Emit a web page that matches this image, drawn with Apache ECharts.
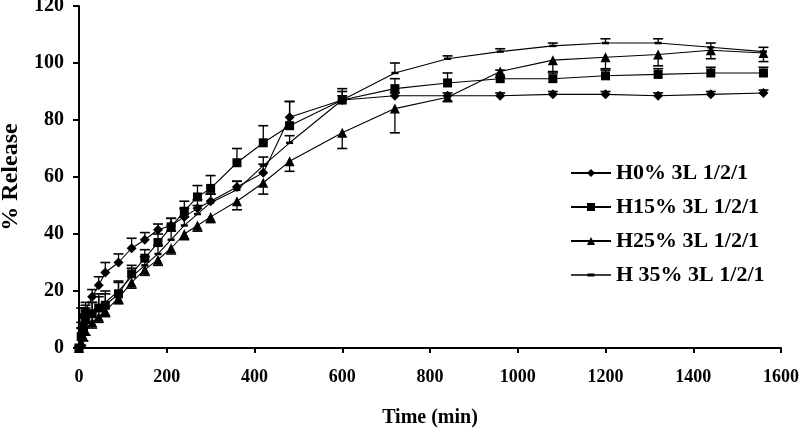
<!DOCTYPE html>
<html>
<head>
<meta charset="utf-8">
<script src="https://cdn.jsdelivr.net/npm/echarts@6/dist/echarts.min.js"></script>
<style>
html,body{margin:0;padding:0;background:#fff;}
#c{width:799px;height:429px;}
</style>
</head>
<body>
<div id="c"></div>
<script>
// time points (min)
var times = [0,5,10,15,30,45,60,90,120,150,180,210,240,270,300,360,420,480,600,720,840,960,1080,1200,1320,1440,1560];
// % release values
var h0  = [0,7,11,13,18,22,26.5,30,35,38,41.5,43,46,49,51.5,56.5,61.5,81,87,88.5,88.5,88.5,89,89,88.5,89,89.5];
var h15 = [0,4,7,10,12,14,15,19,26,31.5,37,42.5,48,53,56,65,72,78,87,91,93,94.5,94.5,95.5,96,96.5,96.5];
var h25 = [0,2,4,6,9,11,13,17.5,23,27.5,31,35,40,43,46,51.5,58,65.5,75.5,84,88,97,101,102,103,104.5,103.5];
var h35 = [0,5,8,11,13,15,16,20,25,29,33,38,43,47,51,55.5,64,72,87,96.5,101.5,104,106,107,107,105.5,104];
// error bars (H0, H15, H35 shown upward; H25 shown downward)
var err0  = [0.5,2,3,3,2.5,3,3.5,3,3.5,2.5,2,2.5,3,3,2.5,2,3,5.5,1.5,1,1,1,1,1,1,1,1];
var err15 = [0.5,3,5,4,4,5,5,4.5,3,3,3,3,3.5,4,4.5,5,6,8.5,4,3.5,3.5,3,2,2,2,2,2];
var err25 = [0,1,1.5,1.5,2,2,2,2,2,2,2,2,2,2,2,3,4,3.5,5.5,8.5,1.5,2,4,4,4,3,3];
var err35 = [0.5,9,6,4,3,3,3,3,3,3,3,3,3,3,3,3,3,2.5,3,3.5,1,1,1,1.5,1.5,1.5,1.5];
var names = ['H0% 3L 1/2/1','H15% 3L 1/2/1','H25% 3L 1/2/1','H 35% 3L 1/2/1'];
var xTicks = [0,200,400,600,800,1000,1200,1400,1600];
var yTicks = [0,20,40,60,80,100,120];

function pts(v){ return times.map(function(t,i){ return [t, v[i]]; }); }
function errPts(v, e, sign){ return times.map(function(t,i){ return [t, v[i], v[i] + sign*e[i]]; }); }

function renderErr(params, api){
  var p1 = api.coord([api.value(0), api.value(1)]);
  var p2 = api.coord([api.value(0), api.value(2)]);
  return {type:'group', children:[
    {type:'line', shape:{x1:p1[0],y1:p1[1],x2:p2[0],y2:p2[1]}, style:{stroke:'#000',lineWidth:1.3}},
    {type:'line', shape:{x1:p2[0]-5,y1:p2[1],x2:p2[0]+5,y2:p2[1]}, style:{stroke:'#000',lineWidth:1.6}}
  ]};
}

var FONT = '"Liberation Serif", "Times New Roman", serif';
var chart = echarts.init(document.getElementById('c'), null, {renderer:'canvas'});

function lineSeries(name, data, symbol, size){
  return {
    type:'line', name:name, data:pts(data), symbol:symbol, symbolSize:size,
    showAllSymbol:true,
    lineStyle:{color:'#000', width:1.1},
    itemStyle:{color:'#000', borderWidth:0},
    z:3, animation:false
  };
}
function errSeries(data, e, sign){
  return {type:'custom', data:errPts(data, e, sign), renderItem:renderErr, silent:true, z:2, animation:false,
          encode:{x:0, y:[1,2]}};
}

var dashIcon = 'path://M0,0 L0.01,0 L0.01,0.01 Z M0,4.3 L40,4.3 L40,5.7 L0,5.7 Z M16.5,3.6 L23.5,3.6 L23.5,6.4 L16.5,6.4 Z M0,10 L0.01,10 L0.01,9.99 Z';

chart.setOption({
  animation:false,
  backgroundColor:'#fff',
  grid:{left:79, right:18, top:6, bottom:81, outerBoundsMode:'none', containLabel:false},
  xAxis:{
    type:'value', min:0, max:1600, interval:200,
    axisLine:{show:true, lineStyle:{color:'#000', width:2}},
    axisTick:{show:true, length:5, lineStyle:{color:'#000', width:2}},
    splitLine:{show:false},
    axisLabel:{color:'#000', fontFamily:FONT, fontWeight:'bold', fontSize:18, margin:20,
      formatter:function(v){ return xTicks.indexOf(v)>=0 ? String(v) : ''; }},
    name:'Time (min)', nameLocation:'middle', nameGap:60,
    nameTextStyle:{color:'#000', fontFamily:FONT, fontWeight:'bold', fontSize:20}
  },
  yAxis:{
    type:'value', min:0, max:120, interval:20,
    axisLine:{show:true, lineStyle:{color:'#000', width:2}},
    axisTick:{show:true, length:6, lineStyle:{color:'#000', width:2}},
    splitLine:{show:false},
    axisLabel:{color:'#000', fontFamily:FONT, fontWeight:'bold', fontSize:20, margin:15,
      formatter:function(v){ return yTicks.indexOf(v)>=0 ? String(v) : ''; }},
    name:'% Release', nameLocation:'middle', nameGap:55, nameRotate:90,
    nameTextStyle:{color:'#000', fontFamily:FONT, fontWeight:'bold', fontSize:24}
  },
  legend:{
    orient:'vertical', left:565, top:157, itemWidth:40, itemHeight:10, itemGap:12,
    symbolKeepAspect:false,
    data:[{name:names[0]},{name:names[1]},{name:names[2]},{name:names[3], icon:dashIcon}],
    textStyle:{color:'#000', fontFamily:FONT, fontSize:22, fontWeight:'bold'},
    inactiveColor:'#000'
  },
  series:[
    errSeries(h0, err0, 1),
    errSeries(h15, err15, 1),
    errSeries(h25, err25, -1),
    errSeries(h35, err35, 1),
    lineSeries(names[0], h0, 'diamond', 10),
    lineSeries(names[1], h15, 'rect', 9),
    lineSeries(names[2], h25, 'triangle', 10),
    lineSeries(names[3], h35, 'rect', [7,2.5])
  ]
});
</script>
</body>
</html>
